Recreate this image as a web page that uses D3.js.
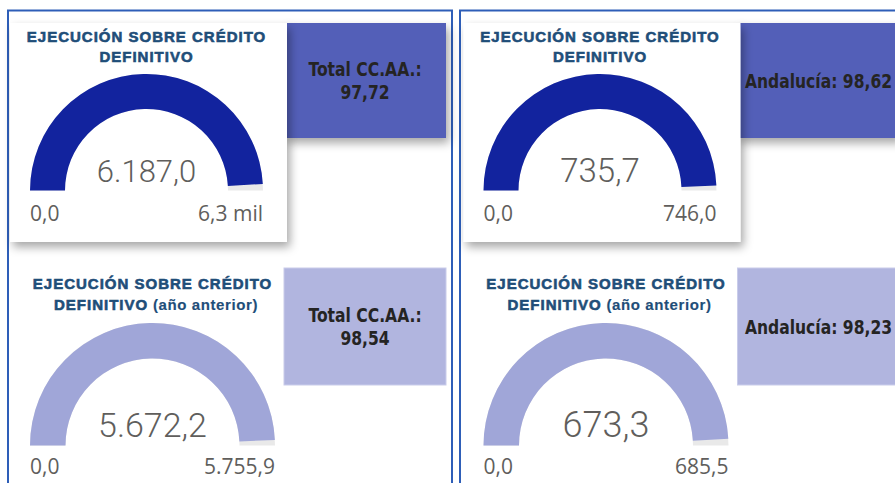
<!DOCTYPE html>
<html>
<head>
<meta charset="utf-8">
<script src="https://cdn.jsdelivr.net/npm/d3@7"></script>
<style>
  body { margin: 0; background: #fff; }
  svg { display: block; }
</style>
</head>
<body>
<div class="chart"></div>
<script>
// DATA (order: top-left, top-right, bottom-left, bottom-right)
const gaugeValues = [6187.0, 735.7, 5672.2, 673.3];
const gaugeMax = [6300, 746.0, 5755.9, 685.5];
const minLabels = ['0,0', '0,0', '0,0', '0,0'];
const maxLabels = ['6,3 mil', '746,0', '5.755,9', '685,5'];
const regionNames = ['Total CC.AA.:', 'Andalucía:', 'Total CC.AA.:', 'Andalucía:'];
const regionValues = [97.72, 98.62, 98.54, 98.23];
const titleLine1 = ['EJECUCIÓN SOBRE CRÉDITO', 'EJECUCIÓN SOBRE CRÉDITO'];
const titleLine2 = ['DEFINITIVO', 'DEFINITIVO'];
const titleSuffix = ['', ' (año anterior)'];

const width = 895;
const height = 483;

// spanish number format: 6.187,0
const es = d3.formatLocale({ decimal: ',', thousands: '.', grouping: [3], currency: ['', '€'] });
const fmt1 = es.format(',.1f');
const fmt2 = es.format(',.2f');

// layout of each row (panels are shifted by panelDx)
const panelDx = 453.5;
const rowsLayout = [
	{ cx: 146.5, cy: 190.5, rOut: 116.5, rIn: 81.5, t1: 42, t2: 62, valY: 182,
		labY: 221, box: { x: 284, y: 23, w: 162, h: 115 }, card: { x: 10, y: 23, w: 277, h: 219 },
		arcColor: '#12239E', boxColor: '#535FB8', shadow: true },
	{ cx: 152.5, cy: 445.5, rOut: 122.5, rIn: 87, t1: 289, t2: 310, valY: 437,
		labY: 474, box: { x: 284, y: 268, w: 162, h: 117 }, card: null,
		arcColor: '#A0A6D8', boxColor: '#B1B5DF', shadow: false }
];
const valueSizes = [31, 33, 34, 36];

const svg = d3.select('.chart')
	.append('svg')
		.attr('width', width)
		.attr('height', height);

const defs = svg.append('defs');
const filt = defs.append('filter')
	.attr('id', 'shadow')
	.attr('x', '-20%').attr('y', '-20%')
	.attr('width', '150%').attr('height', '150%');
filt.append('feDropShadow')
	.attr('dx', 3).attr('dy', 5)
	.attr('stdDeviation', 5)
	.attr('flood-color', '#000')
	.attr('flood-opacity', 0.35);

// panel frames
[0, 1].forEach(p => {
	svg.append('rect')
		.attr('x', 8 + p * 452)
		.attr('y', 10.5)
		.attr('width', 444)
		.attr('height', 490)
		.attr('fill', 'none')
		.attr('stroke', '#2E5EB8')
		.attr('stroke-width', 2);
});

const arcGen = d3.arc();

gaugeValues.forEach((v, i) => {
	const row = Math.floor(i / 2);
	const col = i % 2;
	const L = rowsLayout[row];
	const dx = col * panelDx;
	const g = svg.append('g').attr('transform', `translate(${dx}, 0)`);

	// region value box
	g.append('rect')
		.attr('x', L.box.x)
		.attr('y', L.box.y)
		.attr('width', L.box.w)
		.attr('height', L.box.h)
		.attr('fill', L.boxColor)
		.attr('stroke', row ? '#C9CCEA' : 'none')
		.attr('filter', L.shadow ? 'url(#shadow)' : null);

	const bx = L.box.x + L.box.w / 2;
	const by = L.box.y + L.box.h / 2;
	// condensed look: squeeze the text horizontally
	const boxText = g.append('g')
		.attr('transform', `translate(${bx}, ${by}) scale(0.82, 1)`)
		.append('text')
		.attr('text-anchor', 'middle')
		.style('font-family', '"DejaVu Sans", sans-serif')
		.style('font-weight', 'bold')
		.style('font-size', '19px')
		.style('fill', '#252423');
	if (col === 0) {
		boxText.append('tspan').attr('x', 0).attr('y', -5).text(regionNames[i]);
		boxText.append('tspan').attr('x', 0).attr('y', 19).text(fmt2(regionValues[i]));
	} else {
		boxText.append('tspan').attr('x', 0).attr('y', 7).text(regionNames[i] + ' ' + fmt2(regionValues[i]));
	}

	// white card behind the gauge
	if (L.card) {
		g.append('rect')
			.attr('x', L.card.x)
			.attr('y', L.card.y)
			.attr('width', L.card.w)
			.attr('height', L.card.h)
			.attr('fill', '#fff')
			.attr('filter', 'url(#shadow)');
	}

	// title
	const title = g.append('g')
		.style('font-family', '"Liberation Sans", Arial, sans-serif')
		.style('font-weight', 'bold')
		.style('fill', '#1F4E79')
		.attr('text-anchor', 'middle');
	title.append('text')
		.attr('x', L.cx)
		.attr('y', L.t1)
		.style('font-size', '15px')
		.style('letter-spacing', '1px')
		.style('stroke', '#1F4E79')
		.style('stroke-width', 0.6)
		.text(titleLine1[row]);
	const t2 = title.append('text')
		.attr('x', L.cx + (row ? 3.5 : 0))
		.attr('y', L.t2)
		.style('font-size', '15px');
	t2.append('tspan')
		.style('letter-spacing', '1px')
		.style('stroke', '#1F4E79')
		.style('stroke-width', 0.6)
		.text(titleLine2[row]);
	if (titleSuffix[row]) {
		t2.append('tspan')
			.style('letter-spacing', '0.6px')
			.style('stroke', '#1F4E79')
			.style('stroke-width', 0.15)
			.text(titleSuffix[row]);
	}

	// gauge
	const angle = d3.scaleLinear()
		.domain([0, gaugeMax[i]])
		.range([-Math.PI / 2, Math.PI / 2]);

	const gauge = g.append('g').attr('transform', `translate(${L.cx}, ${L.cy})`);
	gauge.append('path')
		.attr('d', arcGen({ innerRadius: L.rIn, outerRadius: L.rOut, startAngle: angle(0), endAngle: angle(gaugeMax[i]) }))
		.attr('fill', '#E9E9E9');
	gauge.append('path')
		.attr('d', arcGen({ innerRadius: L.rIn, outerRadius: L.rOut, startAngle: angle(0), endAngle: angle(v) }))
		.attr('fill', L.arcColor);

	gauge.append('text')
		.attr('x', 0)
		.attr('y', L.valY - L.cy)
		.attr('text-anchor', 'middle')
		.style('font-family', 'Roboto, "Open Sans", sans-serif')
		.style('font-weight', 300)
		.style('font-size', valueSizes[i] + 'px')
		.style('fill', '#605E5C')
		.text(fmt1(v));

	const labelStyle = sel => sel
		.style('font-family', '"Open Sans", "Segoe UI", sans-serif')
		.style('font-size', '21px')
		.style('fill', '#605E5C')
		.attr('y', L.labY - L.cy);

	gauge.append('text')
		.attr('x', -L.rOut)
		.attr('text-anchor', 'start')
		.call(labelStyle)
		.text(minLabels[i]);
	gauge.append('text')
		.attr('x', L.rOut)
		.attr('text-anchor', 'end')
		.call(labelStyle)
		.text(maxLabels[i]);
});
</script>
</body>
</html>
